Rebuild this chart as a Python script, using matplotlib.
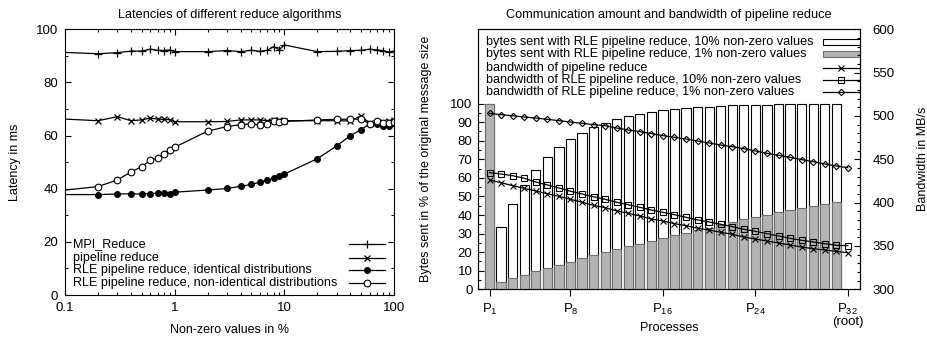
import matplotlib
matplotlib.use("Agg")
import matplotlib.pyplot as plt
import matplotlib.ticker as mticker
from matplotlib.lines import Line2D
from matplotlib.patches import Rectangle

plt.rcParams['font.family'] = ['Liberation Sans', 'DejaVu Sans']
plt.rcParams['font.size'] = 9
plt.rcParams['xtick.labelsize'] = 9.5
plt.rcParams['ytick.labelsize'] = 9.5
plt.rcParams['mathtext.default'] = 'regular'
plt.rcParams['axes.linewidth'] = 0.8

# ---------------- data: left chart ----------------
nonzero_pct = [0.1, 0.2, 0.3, 0.4, 0.5, 0.6, 0.7, 0.8, 0.9, 1,
               2, 3, 4, 5, 6, 7, 8, 9, 10,
               20, 30, 40, 50, 60, 70, 80, 90, 100]
mpi_reduce = [91.3, 90.8, 91.2, 91.8, 91.8, 92.5, 92.1, 92.0, 92.2, 91.6,
              91.6, 92.0, 91.6, 92.1, 91.7, 92.1, 93.5, 92.3, 94.1,
              91.6, 91.7, 92.0, 92.1, 92.5, 92.2, 92.0, 91.4, 91.8]
pipeline_reduce = [66.2, 65.6, 67.1, 65.6, 65.9, 66.6, 66.2, 66.1, 66.0, 65.2,
                   65.2, 65.3, 65.9, 65.9, 65.9, 65.6, 65.9, 65.9, 65.6,
                   65.6, 65.6, 65.5, 67.4, 64.6, 65.0, 65.0, 65.3, 65.9]
rle_identical = [37.8, 37.8, 38.0, 38.1, 38.0, 38.2, 38.3, 38.5, 38.2, 38.7,
                 39.5, 40.1, 40.9, 41.6, 42.5, 43.2, 43.9, 44.8, 45.5,
                 51.3, 56.1, 60.0, 62.2, 64.4, 64.3, 63.7, 63.7, 64.7]
rle_nonidentical = [39.5, 40.8, 43.3, 46.3, 48.3, 50.7, 51.6, 53.2, 54.6, 55.6,
                    61.7, 63.4, 64.1, 64.4, 64.0, 64.4, 65.6, 65.1, 65.3,
                    65.9, 66.1, 66.2, 66.2, 64.4, 65.6, 64.8, 64.8, 65.2]

# ---------------- data: right chart ----------------
processes = list(range(1, 33))
senders = list(range(1, 32))
bytes_10pct = [100, 33.7, 46.1, 56.0, 64.1, 71.0, 76.5, 81.0, 84.3, 87.3,
               89.8, 91.8, 93.2, 94.5, 95.5, 96.4, 97.1, 97.7, 98.1, 98.4,
               98.8, 99.1, 99.3, 99.4, 99.5, 99.6, 99.6, 99.7, 99.7, 99.8, 99.8]
bytes_1pct = [100, 3.8, 6.1, 7.7, 9.6, 11.5, 13.1, 14.9, 16.7, 18.3,
              19.9, 21.5, 23.1, 24.5, 26.0, 27.5, 29.1, 30.4, 31.9, 33.2,
              34.8, 36.4, 37.8, 39.0, 40.2, 41.5, 42.8, 43.7, 44.8, 45.9, 47.0]
bw_pipeline = [426.1, 423.0, 419.6, 416.5, 413.4, 410.3, 407.3, 403.8, 400.4, 396.9,
               394.2, 390.4, 387.7, 384.6, 381.1, 378.8, 375.7, 373.4, 370.4, 368.4,
               365.8, 363.5, 360.3, 358.0, 355.7, 353.4, 351.1, 348.8, 346.8, 345.3,
               343.8, 342.2]
bw_rle_10pct = [434.6, 433.0, 431.1, 428.1, 423.8, 420.4, 416.9, 413.1, 410.0, 406.8,
                403.8, 400.4, 397.6, 394.6, 391.5, 388.8, 386.1, 383.1, 380.0, 377.7,
                375.0, 372.3, 369.2, 366.9, 364.2, 361.5, 358.8, 356.5, 354.6, 352.6,
                350.8, 350.3]
bw_rle_1pct = [503.0, 501.5, 500.3, 498.8, 497.6, 496.1, 494.6, 493.0, 491.5, 490.0,
               488.8, 486.1, 483.8, 481.9, 479.6, 477.3, 475.4, 473.4, 471.1, 468.8,
               466.5, 464.6, 462.3, 459.6, 456.9, 454.6, 452.3, 449.6, 447.3, 444.6,
               442.3, 440.3]
proc_ticks = [1, 8, 16, 24, 32]
proc_labels = ['P$_{1}$', 'P$_{8}$', 'P$_{16}$', 'P$_{24}$', 'P$_{32}$\n(root)']

left_labels = ['MPI_Reduce', 'pipeline reduce',
               'RLE pipeline reduce, identical distributions',
               'RLE pipeline reduce, non-identical distributions']
right_labels = ['bytes sent with RLE pipeline reduce, 10% non-zero values',
                'bytes sent with RLE pipeline reduce, 1% non-zero values',
                'bandwidth of pipeline reduce',
                'bandwidth of RLE pipeline reduce, 10% non-zero values',
                'bandwidth of RLE pipeline reduce, 1% non-zero values']

W, H = 928, 337
fig = plt.figure(figsize=(W / 100, H / 100), dpi=100)


def rect(l, t, r, b):
    return [l / W, 1 - b / H, (r - l) / W, (b - t) / H]


KEY_FS = 9.1

# ---------------- left chart ----------------
ax = fig.add_axes(rect(65, 29.3, 394, 295))
lw = 0.9
styles_left = [
    dict(marker='+', ms=5.5, mew=0.9, color='black', mfc='black'),
    dict(marker='x', ms=4.5, mew=0.9, color='black', mfc='black'),
    dict(marker='o', ms=4.2, mew=0.8, color='black', mfc='black'),
    dict(marker='o', ms=4.8, mew=0.8, color='black', mfc='white'),
]
series_left = [mpi_reduce, pipeline_reduce, rle_identical, rle_nonidentical]
for ys, st in zip(series_left, styles_left):
    ax.plot(nonzero_pct, ys, lw=lw, markevery=slice(1, None), **st)

ax.set_xscale('log')
ax.set_xlim(0.1, 100)
ax.set_ylim(0, 100)
ax.set_yticks([0, 20, 40, 60, 80, 100])
ax.yaxis.set_minor_locator(mticker.MultipleLocator(10))
ax.xaxis.set_major_locator(mticker.FixedLocator([0.1, 1, 10, 100]))
ax.xaxis.set_major_formatter(mticker.FuncFormatter(lambda v, p: f'{v:g}'))
ax.xaxis.set_minor_locator(mticker.LogLocator(base=10, subs=range(2, 10)))
ax.xaxis.set_minor_formatter(mticker.NullFormatter())
ax.tick_params(which='both', direction='in', top=True, right=True, width=0.8)
ax.tick_params(which='major', length=4, pad=5)
ax.tick_params(which='minor', length=2)
ax.set_title('Latencies of different reduce algorithms', fontsize=9.2, pad=8)
ax.set_xlabel('Non-zero values in %', labelpad=7)
ax.set_ylabel('Latency in ms', labelpad=11)

# gnuplot-style key (text left, sample right)
rows_l = [0.191, 0.140, 0.0926, 0.0459]
for lab, st, yy in zip(left_labels, styles_left, rows_l):
    ax.text(0.0234, yy, lab, transform=ax.transAxes, ha='left', va='center',
            fontsize=KEY_FS)
    ax.add_line(Line2D([0.863, 0.973], [yy, yy], transform=ax.transAxes,
                       lw=lw, color='black'))
    ax.add_line(Line2D([0.918], [yy], transform=ax.transAxes, lw=0,
                       **{k: v for k, v in st.items() if k != 'color'},
                       mec='black'))

# ---------------- right chart ----------------
axb = fig.add_axes(rect(478, 29.3, 860, 289.3))
bar_w = 0.8
axb.bar(senders, bytes_10pct, width=bar_w, color='white', edgecolor='black',
        linewidth=0.8, zorder=2)
axb.bar(senders, bytes_1pct, width=bar_w, color='#b3b3b3', edgecolor='#707070',
        linewidth=0.8, zorder=3)
axb.set_xlim(0, 33.05)
axb.set_ylim(0, 140)
axb.set_yticks(range(0, 101, 10))
axb.yaxis.set_minor_locator(mticker.FixedLocator(range(5, 100, 10)))
axb.set_xticks(proc_ticks)
axb.set_xticklabels(proc_labels, linespacing=0.85)
axb.tick_params(axis='y', which='both', direction='in', width=0.8)
axb.tick_params(axis='y', which='major', length=4, pad=4)
axb.tick_params(axis='y', which='minor', length=2)
axb.tick_params(axis='x', direction='out', length=5, width=0.8, pad=4)
axb.set_xlabel('Processes', va='center')
axb.xaxis.set_label_coords(0.5, -0.148)
axb.set_ylabel('Bytes sent in % of the original message size', labelpad=13)
axb.set_title('Communication amount and bandwidth of pipeline reduce',
              fontsize=9.2, pad=8)

ax2 = axb.twinx()
styles_right = [
    dict(marker='x', ms=4.2, mew=0.8, mfc='black'),
    dict(marker='s', ms=4.0, mew=0.8, mfc='none'),
    dict(marker='D', ms=3.2, mew=0.8, mfc='none'),
]
for ys, st in zip([bw_pipeline, bw_rle_10pct, bw_rle_1pct], styles_right):
    ax2.plot(processes, ys, color='black', lw=lw, mec='black', **st)
ax2.set_ylim(300, 600)
ax2.set_yticks(range(300, 601, 50))
ax2.yaxis.set_minor_locator(mticker.MultipleLocator(10))
ax2.tick_params(axis='y', which='both', direction='in', width=0.8)
ax2.tick_params(axis='y', which='major', length=4, pad=9)
ax2.tick_params(axis='y', which='minor', length=2)
ax2.set_ylabel('Bandwidth in MB/s', labelpad=16)

rows_r = [0.952, 0.904, 0.852, 0.805, 0.758]
bh = 0.024
box_styles = [dict(facecolor='white', edgecolor='black'),
              dict(facecolor='#b3b3b3', edgecolor='#707070')]
for i, (lab, yy) in enumerate(zip(right_labels, rows_r)):
    ax2.text(0.021, yy, lab, transform=ax2.transAxes, ha='left', va='center',
             fontsize=KEY_FS)
    if i < 2:
        ax2.add_patch(Rectangle((0.904, yy - bh / 2), 0.1, bh,
                                transform=ax2.transAxes, lw=0.8,
                                **box_styles[i]))
    else:
        st = styles_right[i - 2]
        ax2.add_line(Line2D([0.904, 1.0], [yy, yy], transform=ax2.transAxes,
                            lw=lw, color='black'))
        ax2.add_line(Line2D([0.951], [yy], transform=ax2.transAxes, lw=0,
                            color='black', mec='black', **st))

fig.savefig('out.png', dpi=100)
